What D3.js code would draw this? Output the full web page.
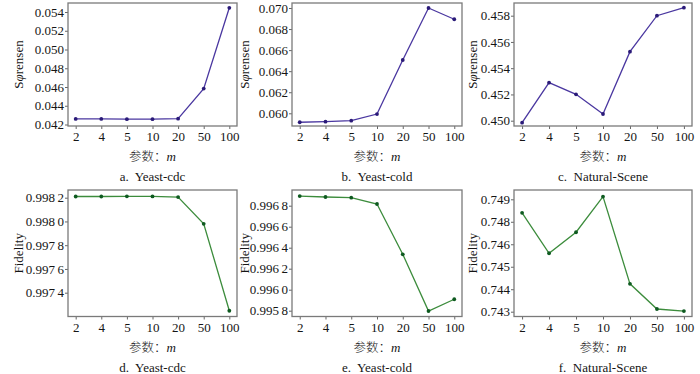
<!DOCTYPE html>
<html><head><meta charset="utf-8">
<script src="https://cdn.jsdelivr.net/npm/d3@7"></script>
<style>
html,body{margin:0;padding:0;background:#fff;}
svg{display:block;}
svg text{font-family:"Liberation Serif","Times New Roman",serif;fill:#151515;}
</style></head>
<body>
<svg id="chart" width="700" height="374"></svg>
<script>
// ---- data ----
const categories = ["2","4","5","10","20","50","100"];
const sorensenCdc   = [0.04260,0.04260,0.04257,0.04257,0.04262,0.04583,0.05445];
const sorensenCold  = [0.05915,0.05920,0.05930,0.05993,0.06506,0.07000,0.06893];
const sorensenScene = [0.44985,0.45290,0.45201,0.45051,0.45526,0.45800,0.45861];
const fidelityCdc   = [0.998210,0.998210,0.998212,0.998211,0.998205,0.997980,0.997248];
const fidelityCold  = [0.996892,0.996883,0.996876,0.996816,0.996337,0.995797,0.995909];
const fidelityScene = [0.74840,0.74560,0.74707,0.74912,0.74424,0.74312,0.74303];

const ticksA = [0.042,0.044,0.046,0.048,0.050,0.052,0.054];
const labelsA = ["0.042","0.044","0.046","0.048","0.050","0.052","0.054"];
const ticksB = [0.060,0.062,0.064,0.066,0.068,0.070];
const labelsB = ["0.060","0.062","0.064","0.066","0.068","0.070"];
const ticksC = [0.450,0.452,0.454,0.456,0.458];
const labelsC = ["0.450","0.452","0.454","0.456","0.458"];
const ticksD = [0.9974,0.9976,0.9978,0.9980,0.9982];
const labelsD = ["0.997\u20094","0.997\u20096","0.997\u20098","0.998\u20090","0.998\u20092"];
const ticksE = [0.9958,0.9960,0.9962,0.9964,0.9966,0.9968];
const labelsE = ["0.995\u20098","0.996\u20090","0.996\u20092","0.996\u20094","0.996\u20096","0.996\u20098"];
const ticksF = [0.743,0.744,0.745,0.746,0.748,0.749];
const labelsF = ["0.743","0.744","0.745","0.746","0.748","0.749"];

const captions = ["a.  Yeast-cdc","b.  Yeast-cold","c.  Natural-Scene","d.  Yeast-cdc","e.  Yeast-cold","f.  Natural-Scene"];

// ---- layout ----
const SERIF = "'Liberation Serif','Times New Roman',serif";
const PURPLE = "#4a37a0", PURPLE_DOT = "#2a1a78";
const GREEN = "#3c8c3c", GREEN_DOT = "#0e5a20";
const cols = [{L:68,R:237,yl:23},{L:292,R:462,yl:249},{L:514,R:692,yl:477}];
const rows = [{T:3,B:126},{T:190,B:316.5}];

const panels = [
  {c:0,r:0,vals:sorensenCdc,ticks:ticksA,labels:labelsA,t0:124.5,t1:12,ylab:"sor"},
  {c:1,r:0,vals:sorensenCold,ticks:ticksB,labels:labelsB,t0:113.3,t1:8,ylab:"sor"},
  {c:2,r:0,vals:sorensenScene,ticks:ticksC,labels:labelsC,t0:120.7,t1:15.7,ylab:"sor"},
  {c:0,r:1,vals:fidelityCdc,ticks:ticksD,labels:labelsD,t0:292.7,t1:197.7,ylab:"Fidelity"},
  {c:1,r:1,vals:fidelityCold,ticks:ticksE,labels:labelsE,t0:310.7,t1:205.7,ylab:"Fidelity"},
  {c:2,r:1,vals:fidelityScene,ticks:ticksF,labels:labelsF,t0:311.7,t1:199.3,ylab:"Fidelity"}
];

const svg = d3.select("#chart");

panels.forEach((p,i)=>{
  const col = cols[p.c], row = rows[p.r];
  const x = d3.scalePoint().domain(categories).range([col.L,col.R]).padding(0.3);
  const n = p.ticks.length;
  const y = d3.scaleLinear().domain(p.ticks)
     .range(p.ticks.map((d,k)=> p.t0 + (p.t1-p.t0)*k/(n-1)));
  const g = svg.append("g");
  const color = p.r===0 ? PURPLE : GREEN;
  const dot = p.r===0 ? PURPLE_DOT : GREEN_DOT;

  // axes
  const ya = g.append("g").attr("transform",`translate(${col.L},0)`)
    .call(d3.axisLeft(y).tickValues(p.ticks).tickFormat((d,k)=>p.labels[k]).tickSize(3).tickPadding(1));
  const xa = g.append("g").attr("transform",`translate(0,${row.B})`)
    .call(d3.axisBottom(x).tickSize(3).tickPadding(3));
  [ya,xa].forEach(a=>{
    a.attr("font-family",SERIF).attr("font-size",13);
    a.select(".domain").remove();
    a.selectAll(".tick line").attr("stroke","#666");
    a.selectAll("text").attr("font-family",SERIF).attr("font-size",13).style("font-family",SERIF).attr("fill","#151515");
  });

  // frame
  g.append("rect").attr("x",col.L).attr("y",row.T)
    .attr("width",col.R-col.L).attr("height",row.B-row.T)
    .attr("fill","none").attr("stroke","#7a7a7a").attr("stroke-width",1.3);

  // line
  const line = d3.line().x((d,k)=>x(categories[k])).y(d=>y(d));
  g.append("path").datum(p.vals).attr("d",line)
    .attr("fill","none").attr("stroke",color).attr("stroke-width",1.3);
  g.selectAll("circle.pt").data(p.vals).enter().append("circle")
    .attr("cx",(d,k)=>x(categories[k])).attr("cy",d=>y(d)).attr("r",1.9)
    .attr("fill",dot);

  // y label
  const cy = (row.T+row.B)/2;
  const yl = g.append("text").attr("transform",`translate(${col.yl},${cy}) rotate(-90)`)
    .attr("text-anchor","middle").style("font-family",SERIF).style("font-size","13px");
  if(p.ylab==="sor"){
    yl.append("tspan").text("S");
    yl.append("tspan").style("font-style","italic").text("φ");
    yl.append("tspan").text("rensen");
  } else yl.text(p.ylab);

  // x label
  const cx = (col.L+col.R)/2;
  const xl = g.append("text").attr("x",cx).attr("y",row.B+35).attr("text-anchor","middle").style("font-size","12.5px");
  xl.append("tspan").style("font-family","'Noto Sans CJK SC',sans-serif").style("font-weight","300").text("参数：");
  xl.append("tspan").style("font-family",SERIF).style("font-style","italic").style("font-size","13px").text("m");

  g.append("text").attr("x",cx).attr("y",row.B+55).attr("text-anchor","middle")
    .style("font-family",SERIF).style("font-size","13px").attr("xml:space","preserve").style("white-space","pre").text(captions[i]);
});
</script>
</body></html>
